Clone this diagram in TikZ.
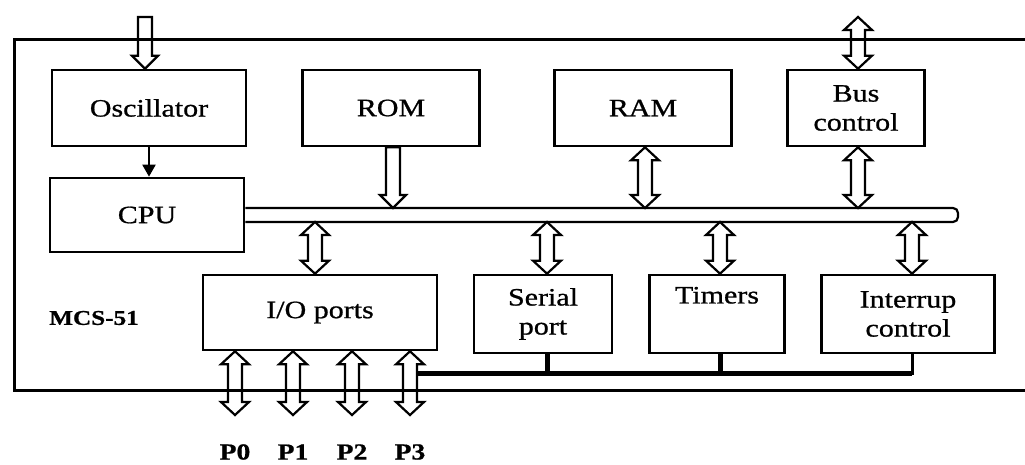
\documentclass[tikz,border=0pt]{standalone}
\usepackage{fontspec}
\setmainfont{Liberation Serif}[FakeStretch=1.2,FakeBold=0.8]
\usetikzlibrary{arrows.meta,calc}
\tikzset{
  blk/.style={draw, line width=2.6pt, inner sep=0pt, align=center,
    font=\fontsize{25}{29}\selectfont},
  harrow/.style={draw, line width=2.2pt, line join=miter},
  frame/.style={draw, line width=3pt},
  lbl/.style={font=\bfseries\fontsize{23}{26}\selectfont, inner sep=0pt},
}
\newcommand\dblarrow[2]{%
  \path[harrow] let \p1=#1, \p2=#2 in
    (\x1,\y1) -- (\x1-14pt,\y1-13pt) -- (\x1-7pt,\y1-13pt) -- (\x1-7pt,\y2+13pt)
    -- (\x1-14pt,\y2+13pt) -- (\x1,\y2) -- (\x1+14pt,\y2+13pt) -- (\x1+7pt,\y2+13pt)
    -- (\x1+7pt,\y1-13pt) -- (\x1+14pt,\y1-13pt) -- cycle;}
\newcommand\dnarrow[2]{%
  \path[harrow] let \p1=#1, \p2=#2 in
    (\x1-7pt,\y1) -- (\x1-7pt,\y2+13pt) -- (\x1-13pt,\y2+13pt) -- (\x1,\y2)
    -- (\x1+13pt,\y2+13pt) -- (\x1+7pt,\y2+13pt) -- (\x1+7pt,\y1) -- cycle;}
\begin{document}
\begin{tikzpicture}[x=1pt,y=-1pt]
\useasboundingbox (0,0) rectangle (1025,465);

% blocks
\node[blk, minimum width=194pt, minimum height=76pt] (osc) at (149,108) {Oscillator};
\node[blk, minimum width=194pt, minimum height=74pt] (cpu) at (147,215) {CPU};
\node[blk, minimum width=177pt, minimum height=76pt] (rom) at (391,108) {ROM};
\node[blk, minimum width=177pt, minimum height=76pt] (ram) at (643,108) {RAM};
\node[blk, minimum width=137pt, minimum height=76pt] (busc) at (856,108) {Bus\\control};
\node[blk, minimum width=234pt, minimum height=75pt] (io) at (320,312.5) {I/O ports};
\node[blk, minimum width=138pt, minimum height=78pt] (ser) at (543,314) {Serial\\port};
\node[blk, minimum width=135pt, minimum height=78pt] (tim) at (717,314) {Timers\\\strut};
\node[blk, minimum width=173pt, minimum height=78pt] (intc) at (908,314) {Interrup\\control};

\node[lbl, font=\bfseries\fontsize{21}{24}\selectfont] (mcs) at (94,318) {MCS-51};

% internal bus
\coordinate (bustop) at (600,208);
\coordinate (busbot) at (600,222);
\coordinate (busend) at (958,208);
\draw[line width=2.2pt] (cpu.east |- bustop) [rounded corners=5pt] -- (busend)
   -- (busend |- busbot) [sharp corners] -- (cpu.east |- busbot);

% external inputs
\coordinate (oscin) at (145,17);
\coordinate (busin) at (858,17);
\dnarrow{(oscin)}{(oscin |- osc.north)}
\dblarrow{(busin)}{(busin |- busc.north)}

% oscillator to CPU
\draw[line width=2pt, -{Triangle[width=13pt,length=12pt]}] (osc.south) -- (osc.south |- cpu.north);

% bus connections
\dnarrow{($(rom.south)+(2,0)$)}{($(rom.south |- bustop)+(2,0)$)}
\dblarrow{($(ram.south)+(2,0)$)}{($(ram.south |- bustop)+(2,0)$)}
\dblarrow{($(busc.south)+(2,0)$)}{($(busc.south |- bustop)+(2,0)$)}
\dblarrow{($(io.north |- busbot)+(-5,0)$)}{($(io.north)+(-5,0)$)}
\dblarrow{($(ser.north |- busbot)+(4,0)$)}{($(ser.north)+(4,0)$)}
\dblarrow{($(tim.north |- busbot)+(3,0)$)}{($(tim.north)+(3,0)$)}
\dblarrow{($(intc.north |- busbot)+(4,0)$)}{($(intc.north)+(4,0)$)}

% port arrows
\coordinate (p0) at (235,415);
\coordinate (p1) at (293,415);
\coordinate (p2) at (352,415);
\coordinate (p3) at (410,415);
\dblarrow{(io.south -| p0)}{(p0)}
\dblarrow{(io.south -| p1)}{(p1)}
\dblarrow{(io.south -| p2)}{(p2)}
\dblarrow{(io.south -| p3)}{(p3)}
\node[lbl] (l0) at (235,452) {P0};
\node[lbl] (l1) at (293,452) {P1};
\node[lbl] (l2) at (352,452) {P2};
\node[lbl] (l3) at (410,452) {P3};

% bottom (port 3) bus
\coordinate (bbL) at (417,373);
\coordinate (bbR) at (912,373);
\draw[line width=5pt] (bbL) -- (bbR);
\draw[line width=5pt] ($(ser.south)+(4,0)$) -- ($(ser.south |- bbL)+(4,0)$);
\draw[line width=5pt] ($(tim.south)+(3,0)$) -- ($(tim.south |- bbL)+(3,0)$);
\draw[line width=3pt] (bbR |- intc.south) -- ($(bbR)+(0,2)$);

% outer frame (open on the right)
\draw[frame] (1025,40) -- (14,40) -- (14,390) -- (1025,390);
\end{tikzpicture}
\end{document}
